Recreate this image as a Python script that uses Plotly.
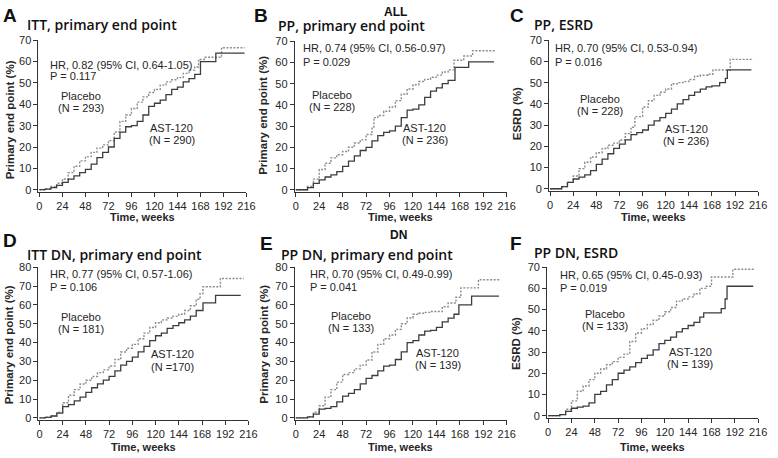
import plotly.graph_objects as go

W, H = 778, 458

# ---------------- data (weeks, cumulative %) ----------------
tick_weeks = [0, 24, 48, 72, 96, 120, 144, 168, 192, 216]

# Panel A: ITT, primary end point
wk_A_pla = [0, 6, 12, 18, 24, 30, 36, 42, 48, 54, 60, 66, 72, 78, 84, 90, 96, 102, 108, 114, 120, 126, 132, 138, 144, 150, 156, 162, 166, 172, 190, 214]
pc_A_pla = [0, 0.5, 1.5, 3, 5, 8, 11, 13.5, 15.5, 17.5, 19.5, 21, 23, 27, 32, 35, 38, 41, 43.5, 45.5, 47, 49, 50.5, 51.5, 52.5, 54.5, 56, 57.5, 61, 62, 66.5, 66.5]
wk_A_ast = [0, 6, 12, 18, 24, 30, 36, 42, 48, 54, 60, 66, 72, 78, 84, 90, 96, 102, 108, 114, 120, 126, 132, 138, 144, 150, 156, 162, 168, 184, 214]
pc_A_ast = [0, 0.3, 1, 2, 3.4, 5, 6.5, 8, 9.5, 12, 15, 17.5, 20, 24, 27, 29.5, 30, 32, 35, 39, 40.5, 42, 44.5, 47, 48, 50.5, 52, 54, 60, 64, 64]

# Panel B: PP, primary end point
wk_B_pla = [0, 6, 12, 18, 24, 30, 36, 42, 48, 54, 60, 66, 72, 78, 80, 84, 90, 96, 102, 108, 114, 120, 126, 132, 138, 144, 150, 156, 162, 172, 181, 205]
pc_B_pla = [0, 0, 1.5, 5, 9.5, 12.5, 15, 16.5, 18, 20, 22, 23.5, 26, 29, 34, 35, 37, 39, 42, 45, 47.5, 49.5, 51, 52, 53, 54, 55.5, 56.5, 61, 63, 65.5, 65.5]
wk_B_ast = [0, 6, 12, 18, 24, 30, 36, 42, 48, 54, 60, 66, 72, 78, 84, 90, 96, 102, 108, 114, 120, 126, 132, 138, 144, 150, 156, 163, 177, 203]
pc_B_ast = [0, 0, 1, 3, 4.6, 6, 7, 8.5, 11, 13.5, 16, 18.5, 20, 23, 25.5, 27, 27.7, 30, 34, 37.5, 38, 40, 43.5, 46.5, 48, 50, 51.5, 57.7, 60.3, 60.3]

# Panel C: PP, ESRD
wk_C_pla = [0, 6, 12, 18, 24, 30, 36, 42, 48, 54, 60, 66, 72, 78, 84, 88, 96, 102, 108, 114, 120, 126, 132, 138, 144, 150, 156, 164, 169, 187, 211]
pc_C_pla = [0, 0, 1, 3, 6, 9.5, 12.5, 15, 17, 19, 20.5, 21.5, 23, 26, 29, 34, 38.5, 41.5, 44, 45.5, 47, 49.5, 50, 50.5, 51.5, 53, 53.5, 54, 56, 61, 61]
wk_C_ast = [0, 6, 12, 18, 24, 30, 36, 42, 48, 54, 60, 66, 72, 78, 84, 90, 96, 102, 108, 114, 120, 126, 132, 138, 144, 150, 156, 162, 168, 176, 182, 184, 209]
pc_C_ast = [0, 0, 1, 3, 4.6, 5.5, 6.5, 8.5, 11.5, 14, 16.5, 19, 21, 23, 25.5, 26.5, 27.7, 30, 32, 33.5, 35.5, 37.5, 40, 42, 44, 45.5, 47, 48, 48.5, 50, 52, 56, 56]

# Panel D: ITT DN, primary end point
wk_D_pla = [0, 6, 12, 18, 24, 30, 36, 42, 48, 54, 60, 66, 72, 78, 84, 90, 96, 102, 108, 114, 120, 126, 132, 138, 144, 150, 156, 162, 166, 169, 187, 211]
pc_D_pla = [0, 0.3, 1, 3, 8, 12, 15, 18, 20, 22, 24, 25.5, 27.5, 31, 35, 37, 39, 42, 45, 48, 50.5, 52, 53, 54, 55, 57, 59.5, 63, 66, 69.6, 74, 74]
wk_D_ast = [0, 6, 12, 18, 24, 30, 36, 42, 48, 54, 60, 66, 72, 78, 84, 90, 96, 102, 108, 114, 120, 126, 132, 138, 144, 150, 156, 162, 169, 182, 208]
pc_D_ast = [0, 0.3, 1, 2.5, 6, 7, 9, 11, 13.5, 16, 18, 20, 22, 25, 28, 30, 32.3, 35, 38, 41, 43.6, 45, 47.5, 49, 50.5, 52, 54, 57, 61, 65, 65]

# Panel E: PP DN, primary end point
wk_E_pla = [0, 6, 12, 18, 24, 30, 36, 42, 48, 54, 60, 66, 72, 78, 84, 90, 96, 102, 108, 114, 120, 126, 132, 138, 144, 150, 156, 164, 169, 187, 210]
pc_E_pla = [0, 0, 0.5, 3, 6.4, 11, 15, 19, 23, 24, 26, 28, 30.7, 35, 39, 42, 44, 47, 50, 53, 55, 55.5, 56, 56.5, 56.5, 59, 61, 64, 69, 73.3, 73.3]
wk_E_ast = [0, 6, 12, 18, 24, 30, 36, 42, 48, 54, 60, 66, 72, 78, 84, 90, 96, 102, 108, 114, 120, 126, 132, 138, 144, 150, 156, 162, 167, 180, 208]
pc_E_ast = [0, 0, 0.5, 2, 4.7, 5, 6, 8.5, 11.6, 13, 15, 18, 21, 22.5, 25, 27.5, 28, 31, 35, 40, 41, 44, 46, 46.5, 48, 51, 53, 55, 60, 64.6, 64.6]

# Panel F: PP DN, ESRD
wk_F_pla = [0, 6, 12, 18, 24, 30, 36, 42, 48, 54, 60, 66, 72, 78, 84, 90, 96, 102, 108, 114, 120, 126, 132, 138, 144, 150, 156, 162, 168, 190, 213]
pc_F_pla = [0, 0, 0.5, 3, 7, 11.5, 14, 17, 20, 22, 24, 25.5, 27.5, 29, 35, 39, 41, 43, 45, 47, 49, 51, 54, 55, 56, 57.5, 60, 61, 65.4, 69, 69]
wk_F_ast = [0, 6, 12, 18, 24, 30, 36, 42, 48, 54, 60, 66, 72, 78, 84, 90, 96, 102, 108, 114, 120, 126, 132, 138, 144, 150, 156, 160, 178, 182, 184, 211]
pc_F_ast = [0, 0, 0.5, 2, 3.5, 4, 4.5, 6, 10, 11.5, 14.5, 17, 20, 21.5, 23, 25, 27, 28.5, 31, 34, 35.5, 37, 39.5, 41, 42.5, 44, 46.5, 48.5, 50.5, 55, 61, 61]

panel_letters = ["A", "B", "C", "D", "E", "F"]
panel_titles = ["ITT, primary end point", "PP, primary end point", "PP, ESRD",
                "ITT DN, primary end point", "PP DN, primary end point", "PP DN, ESRD"]
y_titles = ["Primary end point (%)", "Primary end point (%)", "ESRD (%)",
            "Primary end point (%)", "Primary end point (%)", "ESRD (%)"]
y_max = [70, 70, 70, 80, 80, 70]
hr_text = ["HR, 0.82 (95% CI, 0.64-1.05)", "HR, 0.74 (95% CI, 0.56-0.97)", "HR, 0.70 (95% CI, 0.53-0.94)",
           "HR, 0.77 (95% CI, 0.57-1.06)", "HR, 0.70 (95% CI, 0.49-0.99)", "HR, 0.65 (95% CI, 0.45-0.93)"]
p_text = ["P = 0.117", "P = 0.029", "P = 0.016", "P = 0.106", "P = 0.041", "P = 0.019"]
n_placebo = ["(N = 293)", "(N = 228)", "(N = 228)", "(N = 181)", "(N = 133)", "(N = 133)"]
n_ast = ["(N = 290)", "(N = 236)", "(N = 236)", "(N =170)", "(N = 139)", "(N = 139)"]
group_titles = ["ALL", "DN"]

curves = [
    (wk_A_pla, pc_A_pla, wk_A_ast, pc_A_ast),
    (wk_B_pla, pc_B_pla, wk_B_ast, pc_B_ast),
    (wk_C_pla, pc_C_pla, wk_C_ast, pc_C_ast),
    (wk_D_pla, pc_D_pla, wk_D_ast, pc_D_ast),
    (wk_E_pla, pc_E_pla, wk_E_ast, pc_E_ast),
    (wk_F_pla, pc_F_pla, wk_F_ast, pc_F_ast),
]

# ---------------- layout geometry (pixels) ----------------
x_dom_px = [(37, 248), (297, 512), (555, 767), (37, 250), (297, 512), (553, 767)]
y_dom_px = [(35, 190), (36, 190), (35, 189), (267, 423), (267, 423), (267, 421)]
letter_pos = [(8, 10), (263, 10), (522, 10), (8, 240), (268, 243), (521, 243)]
title_pos = [(23, 19), (278, 20), (538, 19), (23, 254), (281, 254), (538, 252)]
ytitle_pos = [(9, 116), (264, 112), (522, 110), (8, 346), (266, 346), (522, 345)]
xtitle_y = [216, 216, 216, 451, 451, 451]
hr_pos = [(47, 60, 72), (303, 43, 57), (559, 43, 57), (47, 274, 287), (310, 274, 287), (564, 275, 288)]
pla_pos = [(80, 92, 104), (335, 91, 103), (607, 95, 107), (80, 318, 330), (354, 317, 329), (612, 315, 327)]
ast_pos = [(172, 125, 137), (429, 125, 137), (694, 126, 138), (173, 356, 369), (442, 355, 367), (698, 354, 366)]
group_pos = [(399, 6), (402, 234)]

def px(x):
    return x / W

def py(y):
    return 1 - y / H

TXT = "#262626"
TICKFONT = dict(family="Liberation Sans, Arial, sans-serif", size=11, color=TXT)

fig = go.Figure()
annotations = []
layout_axes = {}

for i in range(6):
    sfx = "" if i == 0 else str(i + 1)
    xa, ya = "x" + sfx, "y" + sfx
    wp, pp, wa, pa = curves[i]
    fig.add_trace(go.Scatter(x=wp, y=pp, mode="lines", line_shape="hv",
                             line=dict(color="#8c8c8c", width=1.4, dash="2px,1.5px"),
                             xaxis=xa, yaxis=ya, showlegend=False, name="Placebo", hoverinfo="skip"))
    fig.add_trace(go.Scatter(x=wa, y=pa, mode="lines", line_shape="hv",
                             line=dict(color="#3c3c3c", width=1.3),
                             xaxis=xa, yaxis=ya, showlegend=False, name="AST-120", hoverinfo="skip"))
    x0, x1 = x_dom_px[i]
    yt, yb = y_dom_px[i]
    layout_axes["xaxis" + sfx] = dict(
        domain=[px(x0), px(x1)], range=[-1, 216], anchor=ya,
        tickvals=tick_weeks, ticktext=[str(t) for t in tick_weeks],
        showline=True, linecolor="#333", linewidth=1, ticks="outside", ticklen=4,
        tickcolor="#333", showgrid=False, zeroline=False, tickfont=TICKFONT, fixedrange=True)
    layout_axes["yaxis" + sfx] = dict(
        domain=[py(yb), py(yt)], range=[-1, y_max[i]], anchor=xa,
        tickvals=list(range(0, y_max[i] + 1, 10)),
        showline=True, linecolor="#333", linewidth=1, ticks="outside", ticklen=4,
        tickcolor="#333", showgrid=False, zeroline=False, tickfont=TICKFONT, fixedrange=True)

    lx, ly = letter_pos[i]
    annotations.append(dict(x=px(lx), y=py(ly), xref="paper", yref="paper", text="<b>%s</b>" % panel_letters[i],
                            showarrow=False, xanchor="center", yanchor="middle",
                            font=dict(family="Liberation Sans, Arial", size=19, color="#111")))
    tx, ty = title_pos[i]
    annotations.append(dict(x=px(tx), y=py(ty), xref="paper", yref="paper", text=panel_titles[i],
                            showarrow=False, xanchor="left", yanchor="middle",
                            font=dict(family="Open Sans, sans-serif", size=14, color="#111", weight=600)))
    yx, yy = ytitle_pos[i]
    annotations.append(dict(x=px(yx), y=py(yy), xref="paper", yref="paper", text="<b>%s</b>" % y_titles[i],
                            showarrow=False, xanchor="center", yanchor="middle", textangle=-90,
                            font=dict(family="Liberation Sans, Arial", size=11.5, color=TXT)))
    annotations.append(dict(x=px((x0 + x1) / 2), y=py(xtitle_y[i]), xref="paper", yref="paper",
                            text="<b>Time, weeks</b>", showarrow=False, xanchor="center", yanchor="middle",
                            font=dict(family="Liberation Sans, Arial", size=11, color=TXT)))
    hx, hy1, hy2 = hr_pos[i]
    for t, yv in ((hr_text[i], hy1), (p_text[i], hy2)):
        annotations.append(dict(x=px(hx), y=py(yv), xref="paper", yref="paper", text=t,
                                showarrow=False, xanchor="left", yanchor="middle",
                                font=dict(family="Liberation Sans, Arial", size=11, color=TXT)))
    for (cx, y1, y2), l1, l2 in ((pla_pos[i], "Placebo", n_placebo[i]), (ast_pos[i], "AST-120", n_ast[i])):
        for t, yv in ((l1, y1), (l2, y2)):
            annotations.append(dict(x=px(cx), y=py(yv), xref="paper", yref="paper", text=t,
                                    showarrow=False, xanchor="center", yanchor="middle",
                                    font=dict(family="Liberation Sans, Arial", size=11, color=TXT)))

for (gx, gy), g in zip(group_pos, group_titles):
    annotations.append(dict(x=px(gx), y=py(gy), xref="paper", yref="paper", text="<b>%s</b>" % g,
                            showarrow=False, xanchor="center", yanchor="middle",
                            font=dict(family="Liberation Sans, Arial", size=12, color="#111")))

fig.update_layout(width=W, height=H, autosize=False,
                  margin=dict(l=0, r=0, t=0, b=0),
                  paper_bgcolor="white", plot_bgcolor="white", hovermode=False,
                  showlegend=False, annotations=annotations, **layout_axes)

fig.write_html("out.html", config={"responsive": False, "displayModeBar": False, "staticPlot": True},
               post_script="document.body.style.margin='0';document.body.style.overflow='hidden';")
